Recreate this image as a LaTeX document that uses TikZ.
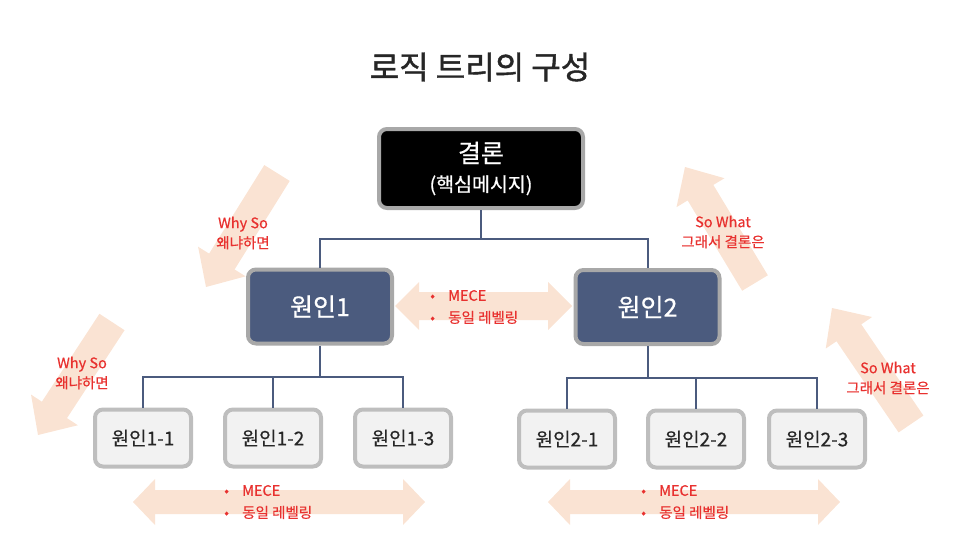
\documentclass[tikz,border=0pt]{standalone}
\usepackage{fontspec}
\setmainfont{Noto Sans CJK KR}[FakeBold=0.5]
\newfontfamily\titlefont{Noto Sans CJK KR}[FakeBold=1.3]
\usetikzlibrary{calc}
\definecolor{peach}{HTML}{FAE3D3}
\definecolor{slate}{HTML}{4B5B7E}
\definecolor{redtxt}{HTML}{E8312F}
\definecolor{bordgray}{HTML}{A8A8A8}
\definecolor{lightbord}{HTML}{BEBEBE}
\definecolor{lightfill}{HTML}{F2F2F2}
\newcommand\dblarrow[5]{%
  \coordinate (da) at #1; \coordinate (db) at #2;
  \coordinate (dc1) at ($(da)!#5!(db)$);
  \coordinate (dc2) at ($(db)!#5!(da)$);
  \fill[peach] (da) -- ($(dc1)!#4!90:(db)$) -- ($(dc1)!#3!90:(db)$)
    -- ($(dc2)!#3!-90:(da)$) -- ($(dc2)!#4!-90:(da)$) -- (db)
    -- ($(dc2)!#4!90:(da)$) -- ($(dc2)!#3!90:(da)$)
    -- ($(dc1)!#3!-90:(db)$) -- ($(dc1)!#4!-90:(db)$) -- cycle;}
\newcommand\blkarrow[5]{%
  \coordinate (sa) at #1; \coordinate (sb) at #2;
  \coordinate (sc) at ($(sb)!#5!(sa)$);
  \fill[peach] ($(sa)!#3!90:(sb)$) -- ($(sc)!#3!90:(sb)$) -- ($(sc)!#4!90:(sb)$)
    -- (sb) -- ($(sc)!#4!-90:(sb)$) -- ($(sc)!#3!-90:(sb)$) -- ($(sa)!#3!-90:(sb)$) -- cycle;}
\begin{document}
\begin{tikzpicture}[x=1pt,y=-1pt,
  topbox/.style={draw=bordgray, line width=4pt, fill=black, rounded corners=8pt,
    minimum width=204pt, minimum height=79pt, text=white, align=center,
    font=\fontsize{25}{29}\selectfont, inner sep=0pt},
  midbox/.style={draw=bordgray, line width=4pt, fill=slate, rounded corners=8pt,
    minimum width=144pt, minimum height=74pt, text=white,
    font=\fontsize{25}{28}\selectfont, inner sep=0pt},
  leafbox/.style={draw=lightbord, line width=4pt, fill=lightfill, rounded corners=8pt,
    minimum width=96pt, minimum height=57pt, text=black!85,
    font=\fontsize{19}{22}\selectfont, inner sep=0pt},
  conn/.style={draw=slate, line width=2pt},
  note/.style={text=redtxt, font=\fontsize{14.5}{20}\selectfont, align=center, inner sep=0pt},
  bullets/.style={text=redtxt, font=\fontsize{14.5}{22}\selectfont, align=left, inner sep=0pt, anchor=west}]
\useasboundingbox (0,0) rectangle (958,538);

% title
\node[font=\titlefont\fontsize{32}{36}\selectfont, text=black!85, inner sep=0pt] (title) at (480,67) {로직 트리의 구성};

% block arrows
\dblarrow{(395,306)}{(572,306)}{14pt}{24pt}{24pt}
\dblarrow{(133,502)}{(425,502)}{12pt}{23pt}{22pt}
\dblarrow{(548,502)}{(840,502)}{12pt}{23pt}{22pt}
\blkarrow{(277,173)}{(206,287)}{15pt}{28pt}{30pt}
\blkarrow{(112,322)}{(38,435)}{15pt}{28pt}{30pt}
\blkarrow{(755,283)}{(685,167)}{15pt}{28pt}{30pt}
\blkarrow{(911,424)}{(832,308)}{15pt}{28pt}{30pt}

% boxes
\node[topbox] (top) at (481,168.5) {결론\\{\fontsize{19.5}{22}\selectfont(핵심메시지)}};
\node[midbox] (c1) at (320,306.5) {원인1};
\node[midbox] (c2) at (647.5,307) {원인2};
\node[leafbox] (c11) at (143,438) {원인1-1};
\node[leafbox] (c12) at (273,438) {원인1-2};
\node[leafbox] (c13) at (403,438) {원인1-3};
\node[leafbox] (c21) at (567,439) {원인2-1};
\node[leafbox] (c22) at (696,439) {원인2-2};
\node[leafbox] (c23) at (817,439) {원인2-3};

% connectors
\coordinate (j0) at (481,239);
\coordinate (j1) at (320,377);
\coordinate (j2) at (647.5,378);
\draw[conn] (top.south) -- (j0);
\draw[conn] (j0) -| (c1.north);
\draw[conn] (j0) -| (c2.north);
\draw[conn] (c1.south) -- (j1);
\draw[conn] (j1) -| (c11.north);
\draw[conn] (j1) -| (c12.north);
\draw[conn] (j1) -| (c13.north);
\draw[conn] (c2.south) -- (j2);
\draw[conn] (j2) -| (c21.north);
\draw[conn] (j2) -| (c22.north);
\draw[conn] (j2) -| (c23.north);

% labels
\node[note] (why1) at (243,233) {Why So\\왜냐하면};
\node[note] (why2) at (82,373) {Why So\\왜냐하면};
\node[note] (sw1) at (723,232) {So What\\그래서 결론은};
\node[note] (sw2) at (888,378) {So What\\그래서 결론은};
\node[bullets] (m1) at (430,307) {\makebox[18pt][l]{•}MECE\\\makebox[18pt][l]{•}동일 레벨링};
\node[bullets] (m2) at (224,502) {\makebox[18pt][l]{•}MECE\\\makebox[18pt][l]{•}동일 레벨링};
\node[bullets] (m3) at (641,502) {\makebox[18pt][l]{•}MECE\\\makebox[18pt][l]{•}동일 레벨링};
\end{tikzpicture}
\end{document}
